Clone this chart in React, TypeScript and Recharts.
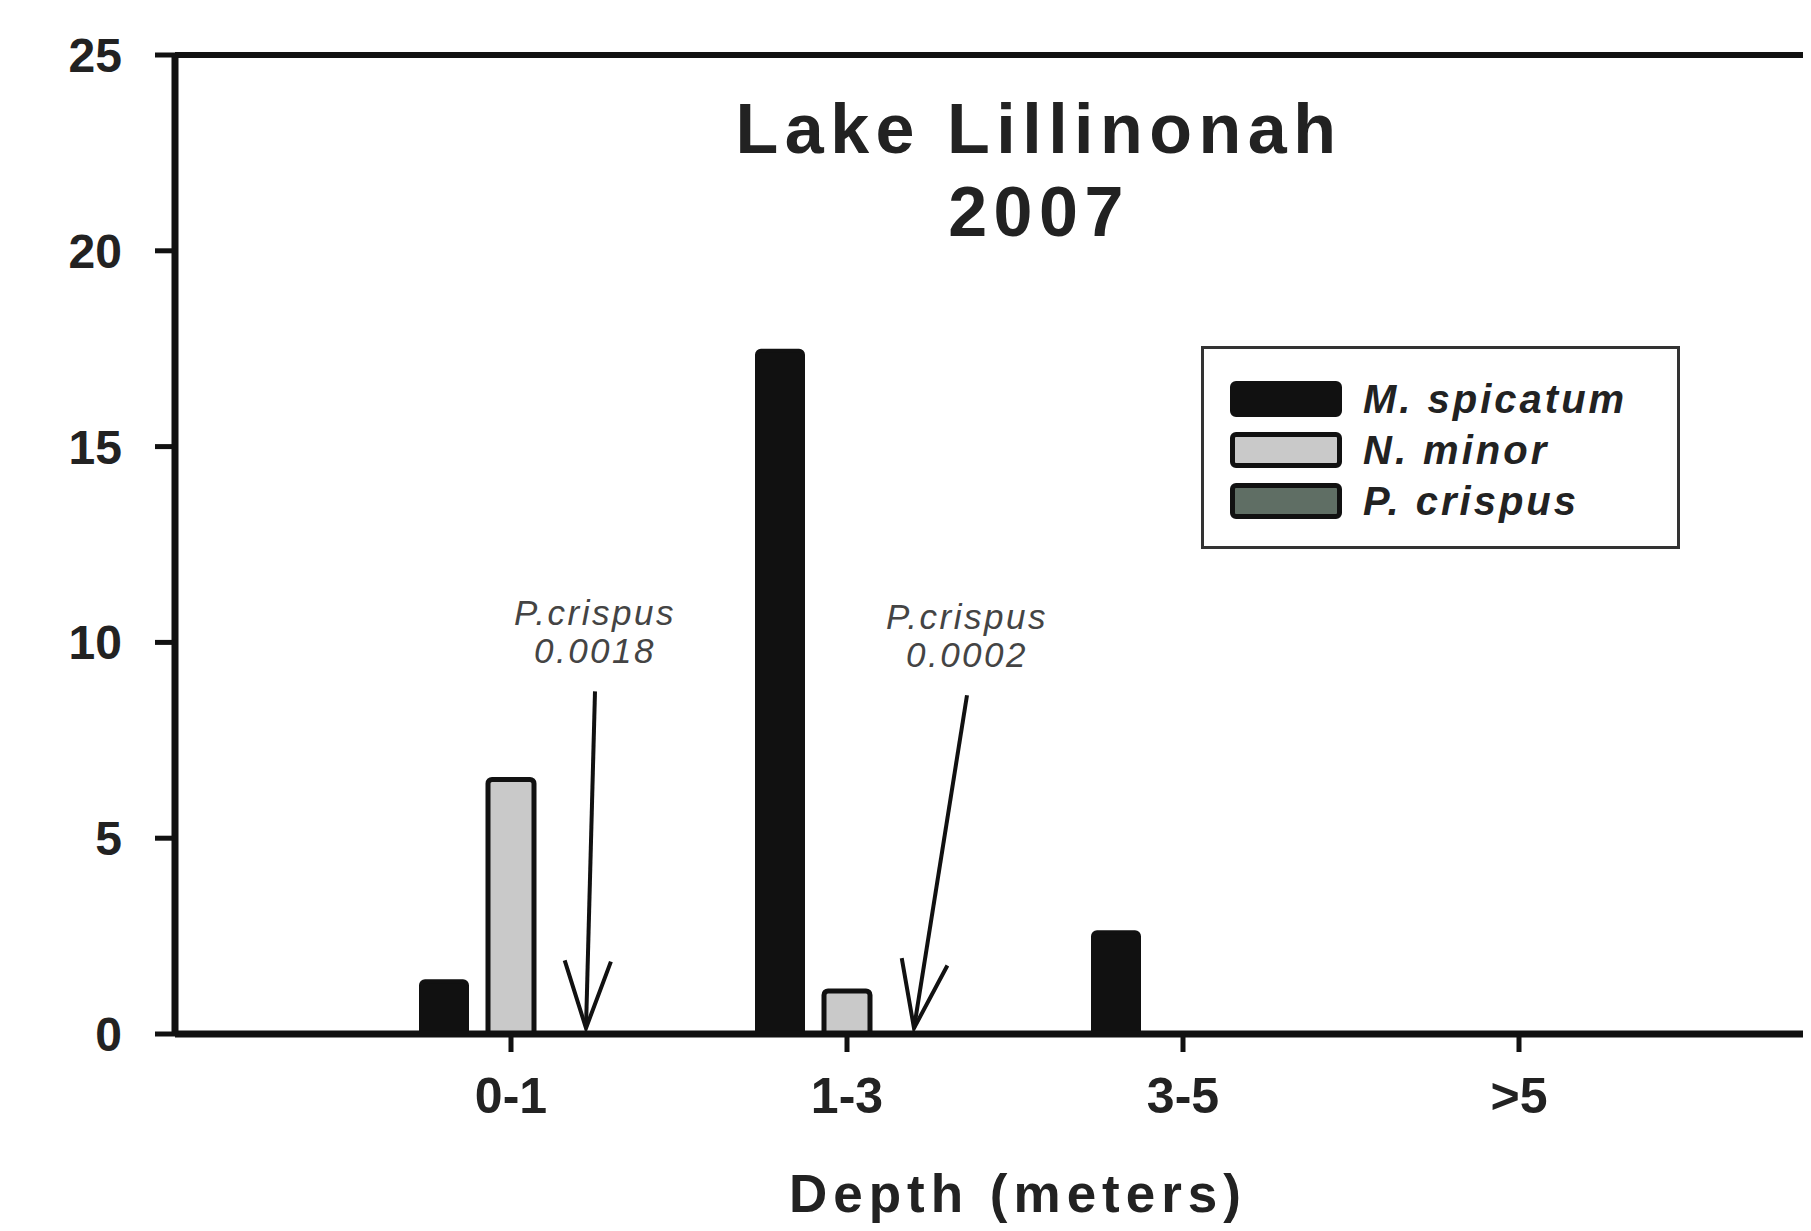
import React from 'react';
import { BarChart, Bar, XAxis, YAxis, Legend, ReferenceLine } from 'recharts';

const depthCategories = ['0-1', '1-3', '3-5', '>5'];
const mSpicatum = [1.35, 17.45, 2.6, 0];
const nMinor = [6.5, 1.1, 0, 0];
const pCrispus = [0.0018, 0.0002, 0, 0];
const yTicks = [0, 5, 10, 15, 20, 25];
const seriesNames = ['M. spicatum', 'N. minor', 'P. crispus'];
const seriesColors = ['#111111', '#c9c9c9', '#5f6e64'];
const notes = [
  { cat: '0-1', label: 'P.crispus', value: '0.0018', top: 8.75, tip: 0.15 },
  { cat: '1-3', label: 'P.crispus', value: '0.0002', top: 8.65, tip: 0.15 },
];

const data = depthCategories.map((c, i) => ({
  depth: c,
  m: mSpicatum[i],
  n: nMinor[i],
  p: pCrispus[i],
}));

const FONT = 'Arial, "Liberation Sans", Helvetica, sans-serif';

function arrowShape(topDx: number, tipDx: number, note: typeof notes[number]) {
  return (props: any) => {
    const { x1, y1, x2, y2 } = props;
    const tx = x1 + topDx;
    const ty = y1;
    const px = x2 + tipDx;
    const py = y2;
    const len = Math.hypot(tx - px, ty - py);
    const ux = (tx - px) / len;
    const uy = (ty - py) / len;
    const th = (19 * Math.PI) / 180;
    const L = 71;
    const a1x = px + L * (ux * Math.cos(th) - uy * Math.sin(th));
    const a1y = py + L * (ux * Math.sin(th) + uy * Math.cos(th));
    const a2x = px + L * (ux * Math.cos(-th) - uy * Math.sin(-th));
    const a2y = py + L * (ux * Math.sin(-th) + uy * Math.cos(-th));
    return (
      <g>
        <line x1={tx} y1={ty} x2={px} y2={py} stroke="#111" strokeWidth={4} />
        <polyline points={`${a1x},${a1y} ${px},${py} ${a2x},${a2y}`} fill="none" stroke="#111" strokeWidth={4} />
        <text x={tx} y={ty - 66} textAnchor="middle" fontFamily={FONT} fontStyle="italic" fontSize={35} letterSpacing={2.5} fill="#444">{note.label}</text>
        <text x={tx} y={ty - 28} textAnchor="middle" fontFamily={FONT} fontStyle="italic" fontSize={35} letterSpacing={2.5} fill="#444">{note.value}</text>
      </g>
    );
  };
}

const renderLegend = (props: any) => {
  const payload = props.payload || [];
  return (
    <div style={{ position: 'relative', width: 479, height: 203, border: '3px solid #333', boxSizing: 'border-box', background: '#fff' }}>
      {payload.map((e: any, i: number) => (
        <div key={i} style={{ position: 'absolute', left: 26, top: 31 + i * 51, height: 38, display: 'flex', alignItems: 'center' }}>
          <div style={{ width: 102, height: 26, background: e.color, border: '5px solid #111', borderRadius: 6 }} />
          <span style={{ marginLeft: 21, fontFamily: FONT, fontStyle: 'italic', fontWeight: 'bold', fontSize: 40, letterSpacing: 3, color: '#222' }}>{e.value}</span>
        </div>
      ))}
    </div>
  );
};

export default function App() {
  return (
    <div style={{ margin: -8, width: 1811, height: 1231, overflow: 'hidden', position: 'relative', background: '#fff' }}>
      <BarChart
        width={1900}
        height={1231}
        data={data}
        margin={{ top: 55, right: 45, bottom: 0, left: 0 }}
        barSize={46}
        barGap={21}
      >
        <XAxis
          dataKey="depth"
          height={197}
          padding={{ left: 168, right: 168 }}
          axisLine={{ stroke: '#111', strokeWidth: 7 }}
          tickLine={{ stroke: '#111', strokeWidth: 5 }}
          tickSize={18}
          tickMargin={25}
          tick={{ fontFamily: FONT, fontWeight: 'bold', fontSize: 50, fill: '#222' }}
          label={(p: any) => {
            const vb = p.viewBox || {};
            return (
              <text x={vb.x + vb.width / 2 + 3} y={vb.y + 178} textAnchor="middle" fontFamily={FONT} fontWeight="bold" fontSize={53} letterSpacing={6} fill="#222">
                Depth (meters)
              </text>
            );
          }}
        />
        <YAxis
          width={175}
          domain={[0, 25]}
          ticks={yTicks}
          axisLine={{ stroke: '#111', strokeWidth: 7 }}
          tickLine={{ stroke: '#111', strokeWidth: 5 }}
          tickSize={20}
          tickMargin={33}
          tick={{ fontFamily: FONT, fontWeight: 'bold', fontSize: 48, fill: '#222' }}
        />
        <ReferenceLine y={25} stroke="#111" strokeWidth={6} ifOverflow="visible" />
        <Bar dataKey="m" name={seriesNames[0]} fill={seriesColors[0]} stroke="#111" strokeWidth={4} radius={[4, 4, 0, 0]} isAnimationActive={false} />
        <Bar dataKey="n" name={seriesNames[1]} fill={seriesColors[1]} stroke="#111" strokeWidth={5} radius={[4, 4, 0, 0]} isAnimationActive={false} />
        <Bar dataKey="p" name={seriesNames[2]} fill={seriesColors[2]} stroke="#111" strokeWidth={3} isAnimationActive={false} />
        <ReferenceLine
          segment={[{ x: notes[0].cat, y: notes[0].top }, { x: notes[0].cat, y: notes[0].tip }]}
          shape={arrowShape(84, 75, notes[0])}
          ifOverflow="visible"
        />
        <ReferenceLine
          segment={[{ x: notes[1].cat, y: notes[1].top }, { x: notes[1].cat, y: notes[1].tip }]}
          shape={arrowShape(120, 67, notes[1])}
          ifOverflow="visible"
        />
        <Legend
          layout="vertical"
          align="center"
          verticalAlign="middle"
          content={renderLegend}
          wrapperStyle={{ position: 'absolute', left: 1201, top: 346, width: 479, height: 203 }}
        />
      </BarChart>
      <svg width={1811} height={260} style={{ position: 'absolute', left: 0, top: 0, pointerEvents: 'none' }}>
        <text x={1039} y={153} textAnchor="middle" fontFamily={FONT} fontWeight="bold" fontSize={70} letterSpacing={6.5} fill="#222">Lake Lillinonah</text>
        <text x={1039} y={236} textAnchor="middle" fontFamily={FONT} fontWeight="bold" fontSize={70} letterSpacing={6.5} fill="#222">2007</text>
      </svg>
    </div>
  );
}
